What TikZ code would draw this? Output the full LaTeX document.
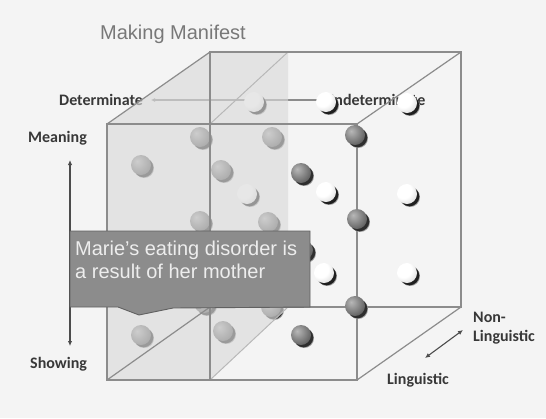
\documentclass[tikz,border=0pt]{standalone}
\usepackage{fontspec}
\setmainfont{Liberation Sans}
\newfontfamily\labelfont{Carlito}
\usetikzlibrary{arrows.meta}

% sphere shadings, highlight up and to the left
\pgfdeclareradialshading{sphereLight}{\pgfpoint{-12bp}{12bp}}{%
  color(0bp)=(white); color(20bp)=(white); color(42bp)=(black!18);
  color(58bp)=(black!42); color(80bp)=(black!42)}
\pgfdeclareradialshading{sphereDark}{\pgfpoint{-10bp}{10bp}}{%
  color(0bp)=(black!28); color(8bp)=(black!36); color(32bp)=(black!62);
  color(55bp)=(black!85); color(80bp)=(black!85)}

\definecolor{bgcol}{HTML}{F4F4F4}
\definecolor{veil}{HTML}{DADADA}
\definecolor{notefill}{HTML}{8C8C8C}
\definecolor{titlecol}{HTML}{787878}

\begin{document}
\begin{tikzpicture}[x=1pt,y=-1pt,
  cubeedge/.style={draw=black!45, line width=1.2pt},
  planeedge/.style={draw=black!28, line width=1pt},
  axislabel/.style={font=\labelfont\bfseries\fontsize{16}{19}\selectfont,
    text=black!78, inner sep=0pt},
  axisarrow/.style={draw=black!70, line width=1.1pt,
    {Latex[length=5pt,width=4.5pt]}-{Latex[length=5pt,width=4.5pt]}},
  lightsphere/.pic={
    \fill[black!40] (3.2,3.2) circle (9.8);
    \fill[black!88] (2.5,2.5) circle (9.8);
    \shade[shading=sphereLight] (0,0) circle (10);},
  darksphere/.pic={
    \fill[black!40] (3.2,3.2) circle (9.8);
    \fill[black!82] (2.5,2.5) circle (9.8);
    \shade[shading=sphereDark] (0,0) circle (10);},
]
% canvas
\fill[bgcol] (0,0) rectangle (546,418);
\useasboundingbox (0,0) rectangle (546,418);

% title
\node[anchor=base west, inner sep=0pt, text=titlecol,
  font=\fontsize{20}{24}\selectfont] (title) at (100,39.5) {Making Manifest};

% determinate / indeterminate axis
\node[axislabel, anchor=base west] (det) at (59,105) {Determinate};
\node[axislabel, anchor=base west] (indet) at (330,105) {Indeterminate};
\coordinate (detEnd) at (151,100);
\coordinate (detStart) at (322,100);
\draw[draw=black!45, line width=1.1pt, -{Latex[length=4pt,width=4pt]}]
  (detStart) -- (detEnd);

% spheres lying behind the translucent slab
\foreach \p in {(200,137),(272,137),(141,165),(221,170),(200,221),
                (268,222),(141,335),(223,331),(204,303),(271,307)}
  \pic at \p {darksphere};
\foreach \p in {(254,102),(247,194)}
  \pic at \p {lightsphere};

% translucent slab: left face of the cube and the cutting plane
\fill[veil, opacity=0.63] (107,124) -- (210,52) -- (288,52) -- (288,307)
  -- (210,380) -- (107,380) -- cycle;

% cube corners
\coordinate (ftl) at (107,124); \coordinate (ftr) at (357,124);
\coordinate (fbr) at (357,380); \coordinate (fbl) at (107,380);
\coordinate (btl) at (210,52);  \coordinate (btr) at (461,52);
\coordinate (bbr) at (461,307); \coordinate (bbl) at (210,307);
% cutting plane corners
\coordinate (ptf) at (210,124); \coordinate (ptb) at (288,52);
\coordinate (pbf) at (210,380); \coordinate (pbb) at (288,307);

% plane diagonals
\draw[planeedge] (ptf) -- (ptb);
\draw[planeedge] (pbf) -- (pbb);
% back face and depth edges
\draw[cubeedge] (bbl) -- (btl) -- (btr) -- (bbr) -- (bbl);
\draw[cubeedge] (btl) -- (pbf);
\draw[cubeedge] (ftl) -- (btl);
\draw[cubeedge] (ftr) -- (btr);
\draw[cubeedge] (fbr) -- (bbr);
\draw[cubeedge] (fbl) -- (bbl);
% front face
\draw[cubeedge] (ftl) -- (ftr) -- (fbr) -- (fbl) -- cycle;

% spheres in the open part of the cube
\foreach \p in {(326,102),(407,103),(326,192),(407,194),(324,273),(407,273)}
  \pic at \p {lightsphere};
\foreach \p in {(355,135),(301,173),(357,219),(355,306),(301,335),(303,250)}
  \pic at \p {darksphere};

% meaning / showing axis
\coordinate (meanEnd) at (70,160);
\coordinate (showEnd) at (70,346);
\draw[axisarrow] (meanEnd) -- (showEnd);
\node[axislabel, anchor=base west] (meaning) at (28,142) {Meaning};
\node[axislabel, anchor=base west] (showing) at (30,368) {Showing};

% callout
\draw[fill=notefill, draw=black!62, line width=0.9pt]
  (70,231) -- (310,231) -- (310,307) -- (173,308) -- (139,315)
  -- (118,307) -- (70,307) -- cycle;
\node[anchor=north west, inner sep=0pt, align=left, text=white!93!black,
  font=\fontsize{20}{23.5}\selectfont] (note) at (75,240.5)
  {Marie's eating disorder is\\a result of her mother};

% linguistic / non-linguistic axis
\coordinate (lingEnd) at (425,358);
\coordinate (nonEnd) at (463,330);
\draw[axisarrow] (lingEnd) -- (nonEnd);
\node[axislabel, anchor=base west] (nonling) at (473,322) {Non-};
\node[axislabel, anchor=base west] (nonling2) at (473,341) {Linguistic};
\node[axislabel, anchor=base west] (ling) at (387,384) {Linguistic};
\end{tikzpicture}
\end{document}
